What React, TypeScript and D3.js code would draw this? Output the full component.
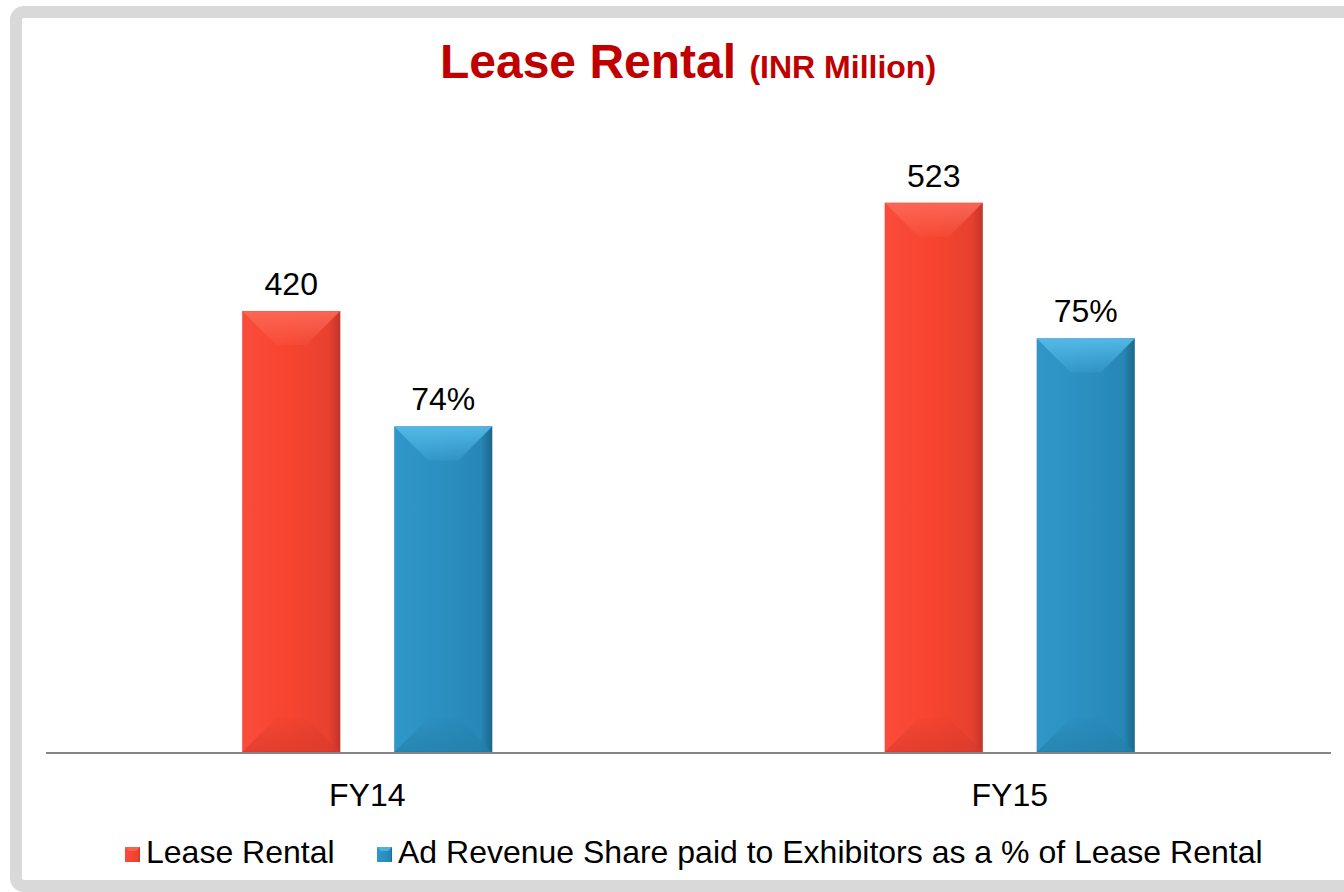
import { useEffect, useRef } from "react";
import * as d3 from "d3";

const categories = ["FY14", "FY15"];
const leaseRental = [420, 523];
const adShare = [74, 75];
const seriesNames = ["Lease Rental", "Ad Revenue Share paid to Exhibitors as a % of Lease Rental"];

const W = 1344;
const H = 892;

export default function App() {
  const ref = useRef<SVGSVGElement | null>(null);

  useEffect(() => {
    const svg = d3.select(ref.current);
    svg.selectAll("*").remove();

    const font = "'Liberation Sans', Arial, sans-serif";
    const baseline = 752;
    const left = 46;
    const right = 1331;

    // frame
    svg.append("rect").attr("width", W).attr("height", H).attr("fill", "#ffffff");
    svg.append("rect")
      .attr("x", 16).attr("y", 12).attr("width", W + 40).attr("height", 874)
      .attr("rx", 8)
      .attr("fill", "none").attr("stroke", "#d9d9d9").attr("stroke-width", 12);

    const defs = svg.append("defs");
    const palettes = [
      { id: "gRed", stops: ["#fb4b3b", "#f6442f", "#e84130", "#c3352b"], top: "#fc6856", bottom: "#d83a2b" },
      { id: "gBlue", stops: ["#2f98c9", "#2b8fc0", "#2787b5", "#1b678c"], top: "#55bbe8", bottom: "#237ea9" },
    ];
    palettes.forEach(p => {
      const g = defs.append("linearGradient").attr("id", p.id).attr("x1", 0).attr("x2", 1).attr("y1", 0).attr("y2", 0);
      [0, 0.5, 0.88, 1].forEach((o, i) => g.append("stop").attr("offset", o).attr("stop-color", p.stops[i]));
      const t = defs.append("linearGradient").attr("id", p.id + "Top").attr("x1", 0).attr("x2", 0).attr("y1", 0).attr("y2", 1);
      t.append("stop").attr("offset", 0).attr("stop-color", p.top).attr("stop-opacity", 0.95);
      t.append("stop").attr("offset", 1).attr("stop-color", p.top).attr("stop-opacity", 0.15);
      const b = defs.append("linearGradient").attr("id", p.id + "Bot").attr("x1", 0).attr("x2", 0).attr("y1", 0).attr("y2", 1);
      b.append("stop").attr("offset", 0).attr("stop-color", p.bottom).attr("stop-opacity", 0.1);
      b.append("stop").attr("offset", 1).attr("stop-color", p.bottom).attr("stop-opacity", 0.7);
    });

    const x0 = d3.scaleBand().domain(categories).range([left, right]);
    const x1 = d3.scaleBand().domain(["lease", "share"]).range([-125, 125]).paddingInner(0.355).paddingOuter(0);
    const yLease = d3.scaleLinear().domain([0, 600]).range([baseline, baseline - 630]);
    const yShare = d3.scaleLinear().domain([70.3, 76]).range([baseline, baseline - 501.6]);

    const drawBar = (cx: number, w: number, yTop: number, p: typeof palettes[0]) => {
      const xa = cx - w / 2, xb = cx + w / 2, yb = baseline;
      const b = Math.min(34, w / 2, (yb - yTop) / 2);
      const g = svg.append("g");
      g.append("rect").attr("x", xa).attr("y", yTop).attr("width", w).attr("height", yb - yTop)
        .attr("fill", `url(#${p.id})`);
      g.append("polygon")
        .attr("points", [[xa, yTop], [xb, yTop], [xb - b, yTop + b], [xa + b, yTop + b]].map(d => d.join(",")).join(" "))
        .attr("fill", `url(#${p.id}Top)`);
      g.append("polygon")
        .attr("points", [[xa, yb], [xb, yb], [xb - b, yb - b], [xa + b, yb - b]].map(d => d.join(",")).join(" "))
        .attr("fill", `url(#${p.id}Bot)`);
      g.append("rect").attr("x", xa).attr("y", yTop).attr("width", w).attr("height", yb - yTop)
        .attr("fill", "none").attr("stroke", "#000").attr("stroke-opacity", 0.06).attr("stroke-width", 1);
    };

    categories.forEach((c, i) => {
      const center = x0(c)! + x0.bandwidth() / 2;
      const w = x1.bandwidth();
      const cl = center + x1("lease")! + w / 2;
      const cs = center + x1("share")! + w / 2;
      const yl = yLease(leaseRental[i]);
      const ys = yShare(adShare[i]);
      drawBar(cl, w, yl, palettes[0]);
      drawBar(cs, w, ys, palettes[1]);
      svg.append("text").attr("x", cl).attr("y", yl - 16).attr("text-anchor", "middle")
        .attr("font-family", font).attr("font-size", 32).attr("fill", "#000").text(leaseRental[i]);
      svg.append("text").attr("x", cs).attr("y", ys - 16).attr("text-anchor", "middle")
        .attr("font-family", font).attr("font-size", 32).attr("fill", "#000").text(`${adShare[i]}%`);
      svg.append("text").attr("x", center).attr("y", 806).attr("text-anchor", "middle")
        .attr("font-family", font).attr("font-size", 32).attr("fill", "#000").text(c);
    });

    // axis line
    svg.append("line").attr("x1", left).attr("x2", right).attr("y1", baseline + 1).attr("y2", baseline + 1)
      .attr("stroke", "#868686").attr("stroke-width", 2);

    // title
    const title = svg.append("text").attr("x", 688).attr("y", 78).attr("text-anchor", "middle")
      .attr("font-family", font).attr("font-weight", "bold").attr("fill", "#c00000");
    title.append("tspan").attr("font-size", 48).text("Lease Rental ");
    title.append("tspan").attr("font-size", 32).text("(INR Million)");

    // legend
    const legendX = [125, 377];
    seriesNames.forEach((n, i) => {
      const p = palettes[i];
      const g = svg.append("g").attr("transform", `translate(${legendX[i]},847)`);
      g.append("rect").attr("width", 15).attr("height", 15).attr("fill", `url(#${p.id})`);
      g.append("polygon").attr("points", "0,0 15,0 11,4 4,4").attr("fill", p.top).attr("opacity", 0.8);
      g.append("text").attr("x", 21).attr("y", 16).attr("font-family", font).attr("font-size", 32)
        .attr("fill", "#000").text(n);
    });
  }, []);

  return (
    <svg ref={ref} width={W} height={H} style={{ position: "absolute", left: 0, top: 0, display: "block" }} />
  );
}
